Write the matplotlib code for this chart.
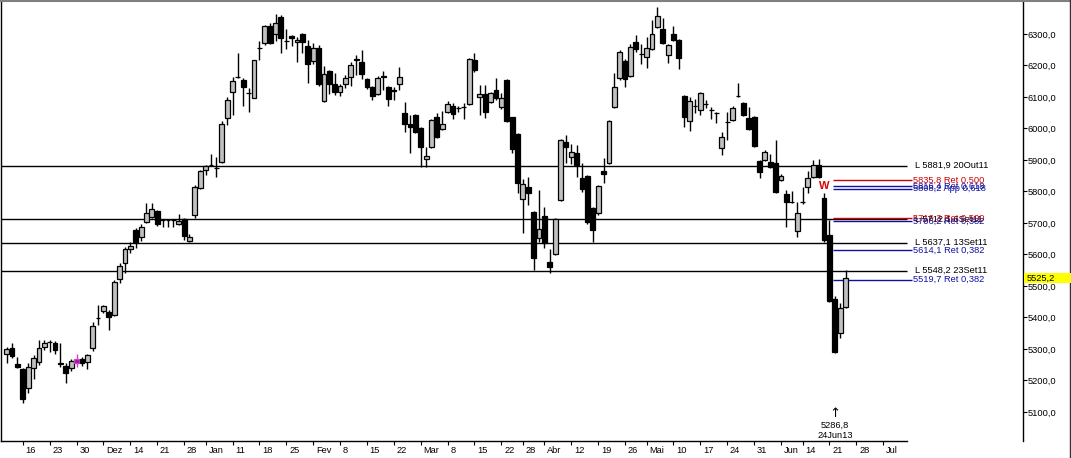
import numpy as np
import matplotlib
matplotlib.use('Agg')
import matplotlib.pyplot as plt
import matplotlib.transforms as mtransforms
from matplotlib.patches import Rectangle
from matplotlib.lines import Line2D

plt.rcParams['font.family'] = ['Liberation Sans', 'DejaVu Sans']
plt.rcParams['font.size'] = 6.7

# velas diarias (OHLC), 13Nov12 .. 26Jun13
opens = [5284, 5303, 5252, 5237, 5176, 5240, 5259, 5306, 5321, 5319,
         5254, 5246, 5240, 5256, 5268, 5259, 5303, 5397, 5421, 5418,
         5408, 5522, 5573, 5617, 5678, 5656, 5703, 5719, 5738, 5710,
         5708, 5709, 5697, 5713, 5643, 5725, 5811, 5868, 5883, 5876,
         5894, 6033, 6116, 6165, 6154, 6114, 6097, 6255, 6271, 6325,
         6300, 6354, 6279, 6294, 6275, 6300, 6262, 6214, 6256, 6087,
         6183, 6141, 6116, 6141, 6163, 6219, 6211, 6157, 6132, 6109,
         6167, 6132, 6121, 6141, 6049, 6014, 6043, 6002, 5903, 5941,
         6036, 5998, 6052, 6071, 6066, 6069, 6078, 6217, 6100, 6109,
         6084, 6122, 6068, 6154, 6036, 5983, 5776, 5814, 5735, 5652,
         5722, 5576, 5602, 5773, 5957, 5910, 5922, 5843, 5849, 5748,
         5732, 5865, 5890, 6068, 6160, 6214, 6167, 6275, 6238, 6227,
         6252, 6322, 6316, 6233, 6300, 6281, 6103, 6024, 6072, 6059,
         6079, 6060, 6050, 5938, 6022, 6027, 6104, 6081, 6033, 6036,
         5897, 5900, 5894, 5890, 5837, 5792, 5768, 5675, 5768, 5814,
         5846, 5884, 5779, 5662, 5459, 5351, 5433]
highs = [5306, 5319, 5275, 5240, 5256, 5281, 5329, 5329, 5329, 5325,
         5319, 5256, 5268, 5284, 5275, 5284, 5386, 5440, 5440, 5424,
         5519, 5573, 5624, 5640, 5684, 5697, 5763, 5763, 5740, 5712,
         5711, 5711, 5729, 5716, 5665, 5820, 5868, 5884, 5919, 5910,
         6024, 6100, 6163, 6240, 6160, 6129, 6217, 6278, 6327, 6335,
         6363, 6360, 6316, 6297, 6290, 6302, 6281, 6270, 6265, 6198,
         6186, 6176, 6141, 6170, 6211, 6233, 6249, 6160, 6135, 6167,
         6183, 6135, 6132, 6195, 6084, 6043, 6046, 6005, 5941, 6030,
         6049, 6055, 6087, 6081, 6071, 6081, 6224, 6240, 6138, 6138,
         6116, 6160, 6113, 6157, 6038, 5986, 5840, 5846, 5738, 5805,
         5751, 5617, 5716, 5967, 5979, 5951, 5948, 5890, 5852, 5751,
         5820, 5906, 6027, 6176, 6249, 6221, 6268, 6297, 6268, 6290,
         6344, 6386, 6351, 6268, 6325, 6284, 6106, 6100, 6094, 6116,
         6090, 6068, 6052, 5989, 6052, 6071, 6144, 6084, 6068, 6040,
         5900, 5932, 5919, 5963, 5856, 5805, 5802, 5767, 5814, 5865,
         5900, 5903, 5795, 5709, 5468, 5446, 5551]
lows = [5256, 5271, 5240, 5129, 5160, 5205, 5249, 5297, 5290, 5284,
        5243, 5192, 5230, 5243, 5246, 5237, 5294, 5376, 5414, 5360,
        5405, 5510, 5541, 5605, 5621, 5643, 5700, 5716, 5690, 5687,
        5687, 5687, 5694, 5646, 5640, 5716, 5808, 5852, 5881, 5846,
        5890, 6011, 6043, 6160, 6071, 6052, 6097, 6217, 6265, 6268,
        6278, 6240, 6252, 6262, 6211, 6240, 6144, 6205, 6135, 6084,
        6110, 6106, 6103, 6128, 6135, 6170, 6157, 6125, 6090, 6106,
        6122, 6071, 6090, 6122, 5989, 5922, 5985, 5878, 5878, 5938,
        5970, 5995, 6049, 6030, 6052, 6030, 6075, 6180, 6043, 6033,
        6081, 6090, 6062, 6020, 5922, 5795, 5668, 5757, 5551, 5640,
        5621, 5541, 5598, 5770, 5890, 5887, 5846, 5798, 5697, 5640,
        5725, 5827, 5887, 6065, 6155, 6132, 6164, 6243, 6205, 6192,
        6249, 6319, 6268, 6208, 6278, 6189, 6005, 5992, 6049, 6043,
        6065, 6030, 6017, 5916, 5963, 6024, 6100, 6040, 5995, 5941,
        5843, 5897, 5875, 5795, 5833, 5687, 5765, 5656, 5760, 5795,
        5843, 5843, 5640, 5449, 5286.8, 5335, 5430]
closes = [5300, 5278, 5243, 5141, 5243, 5271, 5303, 5319, 5323, 5297,
          5252, 5224, 5262, 5268, 5256, 5281, 5373, 5399, 5437, 5402,
          5513, 5563, 5617, 5627, 5640, 5687, 5732, 5744, 5697, 5708,
          5709, 5708, 5706, 5659, 5656, 5814, 5865, 5881, 5884, 5874,
          6014, 6090, 6151, 6163, 6132, 6112, 6217, 6257, 6325, 6271,
          6335, 6287, 6277, 6287, 6281, 6275, 6205, 6256, 6141, 6173,
          6141, 6116, 6135, 6160, 6202, 6222, 6173, 6132, 6103, 6160,
          6165, 6094, 6119, 6163, 6014, 6005, 5989, 5941, 5913, 6027,
          5973, 6014, 6078, 6046, 6065, 6068, 6221, 6186, 6109, 6052,
          6113, 6097, 6097, 6024, 5935, 5827, 5824, 5795, 5589, 5681,
          5637, 5560, 5713, 5963, 5941, 5925, 5884, 5808, 5703, 5678,
          5817, 5856, 6024, 6132, 6243, 6157, 6259, 6252, 6236, 6256,
          6300, 6357, 6271, 6265, 6281, 6224, 6036, 6087, 6071, 6113,
          6078, 6059, 6049, 5973, 6020, 6065, 6103, 6043, 5998, 5944,
          5862, 5925, 5878, 5798, 5849, 5767, 5767, 5732, 5766, 5843,
          5884, 5846, 5646, 5452, 5290, 5430, 5525.2]
marked_candle = 13
low_candle = 154
w_candle = 152

# eixo das datas (posição = índice do dia de negociação)
tick_idx = [3, 8, 13, 18, 23, 28, 33, 37, 42, 47, 52, 57, 62, 67, 72, 77, 82,
            87, 92, 96, 100, 105, 110, 115, 119, 124, 129, 134, 139, 144, 148,
            153, 158, 163]
tick_lbl = ['16', '23', '30', 'Dez', '14', '21', '28', 'Jan', '11', '18', '25',
            'Fev', '8', '15', '22', 'Mar', '8', '15', '22', '28', 'Abr', '12',
            '19', '26', 'Mai', '10', '17', '24', '31', 'Jun', '14', '21', '28',
            'Jul']

# suportes / resistências
sr_levels = [5881.9, 5712.1, 5637.1, 5548.2]
sr_labels = ['L 5881,9 20Out11', 'L 5712,1 6Set11', 'L 5637,1 13Set11',
             'L 5548,2 23Set11']

# fibonacci
fib_levels = [5835.8, 5816.4, 5808.2, 5716.3, 5706.2, 5614.1, 5519.7]
fib_labels = ['5835,8 Ret 0,500', '5816,4 Ret 0,618', '5808,2 App 0,618',
              '5716,3 Ret 0,500', '5706,2 Ret 0,382', '5614,1 Ret 0,382',
              '5519,7 Ret 0,382']
fib_colors = ['#cc0000', '#1010a0', '#1010a0', '#cc0000', '#1010a0',
              '#1010a0', '#1010a0']

yticks = list(range(5100, 6301, 100))
last_price = closes[-1]

W, H = 1071, 458
fig = plt.figure(figsize=(W / 100, H / 100), dpi=100)
ax = fig.add_axes([0.5 / W, 17 / H, 1022.5 / W, 441 / H])

o = np.array(opens, float)
h = np.array(highs, float)
l = np.array(lows, float)
c = np.array(closes, float)
x = np.arange(len(o))

wick_col = ['black'] * len(x)
face = ['#c0c0c0' if cc >= oo else 'black' for oo, cc in zip(o, c)]
edge = ['black'] * len(x)
wick_col[marked_candle] = '#d040d0'
face[marked_candle] = '#902090'
edge[marked_candle] = '#d040d0'

ax.vlines(x, l, h, colors=wick_col, lw=1.0, zorder=2)
ax.bar(x, np.abs(c - o), bottom=np.minimum(o, c), width=0.9,
       color=face, edgecolor=edge, linewidth=0.9, zorder=3)

x_left, x_end = -1.145, 167.4
ax.hlines(sr_levels, x_left, x_end, colors='black', lw=1.0, zorder=1)
for lv, lb in zip(sr_levels, sr_labels):
    ax.text(168.9, lv, lb, va='center', ha='left', color='black')

ax.hlines(fib_levels, 153.7, 168.4, colors=fib_colors, lw=1.0, zorder=1)
for lv, lb, col in zip(fib_levels, fib_labels, fib_colors):
    ax.text(168.5, lv, lb, va='center', ha='left', color=col)

ax.text(w_candle, h[w_candle] + 22, 'W', color='#dd0000', fontweight='bold',
        fontsize=8, ha='center', va='center', zorder=4)

tb = mtransforms.blended_transform_factory(ax.transData, ax.transAxes)
ax.text(low_candle, 0.062, '\u2191', transform=tb, ha='center', va='center',
        fontsize=9.5, family=['DejaVu Sans'])
ax.text(low_candle, 0.0363, f'{l[low_candle]:.1f}'.replace('.', ','),
        transform=tb, ha='center', va='center')
ax.text(low_candle, 0.0136, '24Jun13', transform=tb, ha='center', va='center')

ax.set_xlim(x_left, 189.0)
ax.set_ylim(5007.9, 6407.9)

ax.set_xticks(tick_idx)
ax.set_xticklabels(tick_lbl)
ax.tick_params(axis='x', direction='out', length=3, width=0.8, pad=0.5)
offs = mtransforms.ScaledTranslation(2 / 72, 0, fig.dpi_scale_trans)
for t in ax.get_xticklabels():
    t.set_horizontalalignment('left')
    t.set_transform(t.get_transform() + offs)

ax.yaxis.tick_right()
ax.set_yticks(yticks)
ax.set_yticklabels([f'{v:.1f}'.replace('.', ',') for v in yticks])
ax.tick_params(axis='y', direction='out', length=3, width=0.8, pad=0.5)

ax.spines['top'].set_visible(False)
ax.spines['bottom'].set_bounds(x_left, x_end)
for s in ['left', 'right', 'bottom']:
    ax.spines[s].set_linewidth(1.0)
    ax.spines[s].set_color('black')

# preço actual destacado no eixo
yb = mtransforms.blended_transform_factory(fig.transFigure, ax.transData)
fig.patches.append(Rectangle((1024 / W, last_price - 16), 47 / W, 32,
                             transform=yb, facecolor='#ffff00',
                             edgecolor='none', zorder=5))
fig.text(1027 / W, last_price, f'{last_price:.1f}'.replace('.', ','),
         transform=yb, va='center', ha='left', zorder=6)

fig.add_artist(Line2D([0, 1], [1 - 0.5 / H, 1 - 0.5 / H], color='#808080',
                      lw=1.5, transform=fig.transFigure))
fig.add_artist(Line2D([1 - 1.5 / W, 1 - 1.5 / W], [0, 1], color='#333333',
                      lw=1.0, transform=fig.transFigure))

fig.savefig('out.png', dpi=100)
